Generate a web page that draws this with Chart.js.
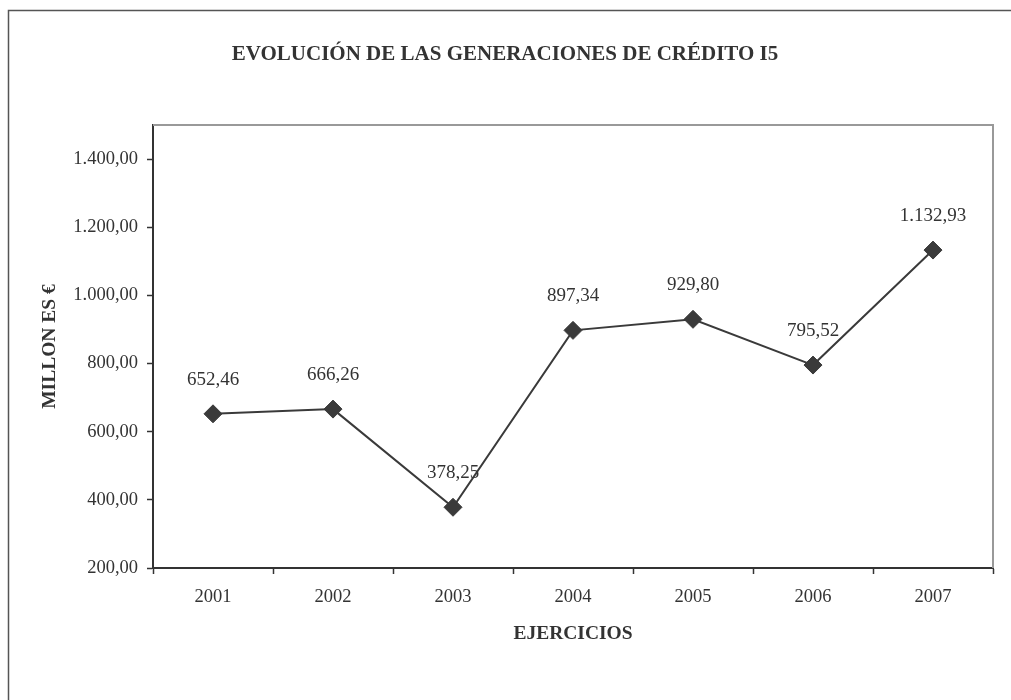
<!DOCTYPE html>
<html>
<head>
<meta charset="utf-8">
<script src="https://cdn.jsdelivr.net/npm/chart.js@4/dist/chart.umd.min.js"></script>
<style>
  html, body { margin: 0; padding: 0; background: #fff; }
  #wrap { width: 1011px; height: 700px; }
</style>
</head>
<body>
<div id="wrap"><canvas id="chart" width="1011" height="700"></canvas></div>
<script>
const years  = ["2001", "2002", "2003", "2004", "2005", "2006", "2007"];
const values = [652.46, 666.26, 378.25, 897.34, 929.80, 795.52, 1132.93];
const yTicks = [200, 400, 600, 800, 1000, 1200, 1400];

const chartTitle = "EVOLUCIÓN DE LAS GENERACIONES DE CRÉDITO I5";
const xTitle = "EJERCICIOS";
const yTitle = "MILLON ES €";

const FONT = "'Liberation Serif', 'DejaVu Serif', serif";
const INK = "#333333";

// Spanish number format: 1.132,93
function fmt(v) {
  const parts = v.toFixed(2).split(".");
  parts[0] = parts[0].replace(/\B(?=(\d{3})+(?!\d))/g, ".");
  return parts.join(",");
}

// Frame, titles, data labels, and the grey top/right borders
const decor = {
  id: "decor",
  afterDraw(chart) {
    const { ctx, chartArea: a } = chart;
    ctx.save();

    // outer frame (left + top)
    ctx.strokeStyle = "#555";
    ctx.lineWidth = 1.5;
    ctx.beginPath();
    ctx.moveTo(8.5, 700);
    ctx.lineTo(8.5, 10.5);
    ctx.lineTo(1011, 10.5);
    ctx.stroke();

    // grey plot border top/right
    ctx.strokeStyle = "#999";
    ctx.lineWidth = 2;
    ctx.beginPath();
    ctx.moveTo(a.left, a.top);
    ctx.lineTo(a.right, a.top);
    ctx.lineTo(a.right, a.bottom);
    ctx.stroke();

    ctx.fillStyle = INK;
    ctx.textAlign = "center";
    ctx.textBaseline = "middle";

    ctx.font = "bold 21px " + FONT;
    ctx.fillText(chartTitle, 505, 55);

    ctx.font = "bold 19.5px " + FONT;
    ctx.fillText(xTitle, (a.left + a.right) / 2, 634);

    ctx.save();
    ctx.translate(50, (a.top + a.bottom) / 2);
    ctx.rotate(-Math.PI / 2);
    ctx.fillText(yTitle, 0, 0);
    ctx.restore();

    // value labels above each point
    ctx.font = "19px " + FONT;
    const meta = chart.getDatasetMeta(0);
    meta.data.forEach((pt, i) => {
      ctx.fillText(fmt(values[i]), pt.x, pt.y - 34);
    });

    ctx.restore();
  }
};

new Chart(document.getElementById("chart"), {
  type: "line",
  data: {
    labels: years,
    datasets: [{
      data: values,
      borderColor: "#3a3a3a",
      borderWidth: 2,
      pointStyle: "rectRot",
      pointRadius: 9,
      pointHoverRadius: 9,
      pointBackgroundColor: "#3a3a3a",
      pointBorderColor: "#3a3a3a",
      pointBorderWidth: 1,
      tension: 0
    }]
  },
  options: {
    responsive: false,
    animation: false,
    layout: { padding: { top: 125, right: 18, left: 0, bottom: 0 } },
    plugins: {
      legend: { display: false },
      title: { display: false },
      tooltip: { enabled: false }
    },
    scales: {
      x: {
        offset: true,
        grid: {
          offset: true,
          drawOnChartArea: false,
          drawTicks: true,
          tickLength: 6,
          color: INK,
          tickWidth: 1.5
        },
        border: { color: INK, width: 2 },
        ticks: {
          color: INK,
          font: { family: FONT, size: 18.5 },
          padding: 12,
          maxRotation: 0
        },
        afterFit(scale) { scale.height = 132; }
      },
      y: {
        min: 200,
        max: 1500,
        afterBuildTicks(scale) {
          scale.ticks = yTicks.map(v => ({ value: v }));
        },
        grid: {
          drawOnChartArea: false,
          drawTicks: true,
          tickLength: 6,
          color: INK,
          tickWidth: 1.5
        },
        border: { color: INK, width: 2 },
        ticks: {
          color: INK,
          font: { family: FONT, size: 18.5 },
          padding: 9,
          callback: v => fmt(v)
        },
        afterFit(scale) { scale.width = 153; }
      }
    }
  },
  plugins: [decor]
});
</script>
</body>
</html>
